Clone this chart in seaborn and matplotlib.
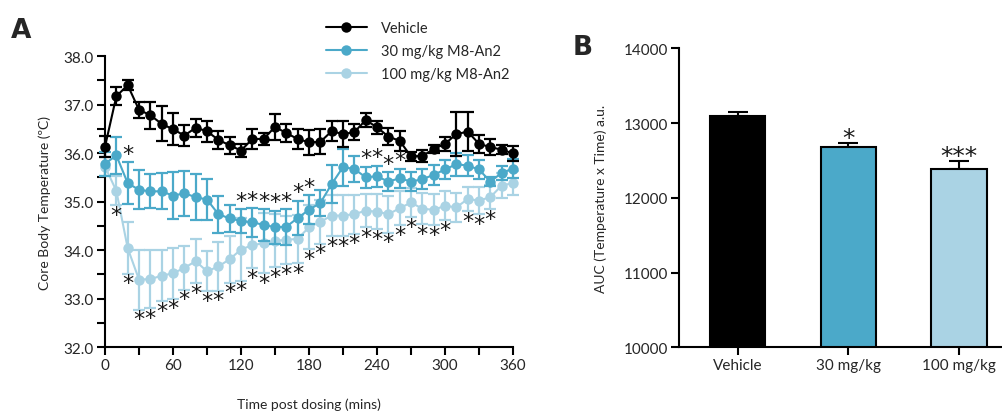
import numpy as np
import pandas as pd
import matplotlib
matplotlib.use('Agg')
import matplotlib.pyplot as plt
import seaborn as sns

# ---- data ----
time = [0, 10, 20, 30, 40, 50, 60, 70, 80, 90, 100, 110, 120, 130, 140, 150, 160, 170, 180,
        190, 200, 210, 220, 230, 240, 250, 260, 270, 280, 290, 300, 310, 320, 330, 340, 350, 360]

vehicle = [36.13, 37.17, 37.40, 36.89, 36.78, 36.60, 36.49, 36.36, 36.52, 36.45, 36.27, 36.16,
           36.05, 36.29, 36.29, 36.54, 36.41, 36.29, 36.22, 36.23, 36.45, 36.39, 36.43, 36.68,
           36.53, 36.34, 36.25, 35.93, 35.94, 36.08, 36.19, 36.39, 36.44, 36.19, 36.12, 36.07, 35.99]
vehicle_sem = [0.22, 0.19, 0.11, 0.16, 0.28, 0.36, 0.33, 0.21, 0.19, 0.22, 0.19, 0.18, 0.13,
               0.21, 0.12, 0.27, 0.19, 0.21, 0.26, 0.26, 0.20, 0.27, 0.16, 0.15, 0.14, 0.18,
               0.20, 0.09, 0.13, 0.09, 0.14, 0.45, 0.40, 0.19, 0.17, 0.10, 0.15]

dose30 = [35.78, 35.95, 35.38, 35.24, 35.21, 35.21, 35.12, 35.17, 35.09, 35.04, 34.74, 34.65,
          34.60, 34.57, 34.52, 34.47, 34.48, 34.66, 34.83, 34.97, 35.36, 35.71, 35.67, 35.50,
          35.52, 35.41, 35.48, 35.41, 35.46, 35.55, 35.66, 35.77, 35.74, 35.66, 35.41, 35.59, 35.68]
dose30_sem = [0.25, 0.38, 0.43, 0.40, 0.35, 0.37, 0.48, 0.46, 0.48, 0.43, 0.38, 0.27, 0.24,
              0.30, 0.33, 0.34, 0.37, 0.36, 0.30, 0.26, 0.40, 0.38, 0.27, 0.22, 0.22, 0.20,
              0.20, 0.20, 0.20, 0.20, 0.20, 0.24, 0.22, 0.20, 0.10, 0.15, 0.20]

dose100 = [35.72, 35.22, 34.04, 33.39, 33.40, 33.47, 33.52, 33.63, 33.77, 33.56, 33.66, 33.81,
           34.01, 34.10, 34.14, 34.19, 34.21, 34.23, 34.47, 34.58, 34.71, 34.71, 34.74, 34.81,
           34.79, 34.74, 34.86, 34.98, 34.85, 34.83, 34.91, 34.88, 35.05, 35.02, 35.09, 35.33, 35.38]
dose100_sem = [0.20, 0.30, 0.53, 0.62, 0.60, 0.52, 0.52, 0.45, 0.45, 0.41, 0.50, 0.48, 0.64,
               0.48, 0.62, 0.55, 0.50, 0.50, 0.45, 0.45, 0.42, 0.42, 0.40, 0.34, 0.36, 0.38,
               0.35, 0.30, 0.32, 0.32, 0.30, 0.30, 0.25, 0.28, 0.25, 0.25, 0.25]

# time points flagged as significant
sig30 = [20, 120, 130, 140, 150, 160, 170, 180, 230, 240, 250, 260]
sig100 = [10, 20, 30, 40, 50, 60, 70, 80, 90, 100, 110, 120, 130, 140, 150, 160, 170, 180, 190,
          200, 210, 220, 230, 240, 250, 260, 270, 280, 290, 300, 320, 330, 340]

groups = ['Vehicle', '30 mg/kg M8-An2', '100 mg/kg M8-An2']
bar_labels = ['Vehicle', '30 mg/kg', '100 mg/kg']
auc = [13090, 12680, 12385]
auc_sem = [55, 58, 110]
auc_stars = ['', '*', '***']

colors = ['#000000', '#4ba9c9', '#aad3e4']

# ---- style ----
sns.set_style('ticks')
plt.rcParams['font.family'] = ['Lato', 'DejaVu Sans']
plt.rcParams['axes.linewidth'] = 1.5
plt.rcParams['xtick.major.width'] = 1.5
plt.rcParams['ytick.major.width'] = 1.5
plt.rcParams['xtick.minor.width'] = 1.5
plt.rcParams['ytick.minor.width'] = 1.5

fig = plt.figure(figsize=(10.02, 4.14), dpi=100)
axA = fig.add_axes([0.1048, 0.1594, 0.4072, 0.7029])
axB = fig.add_axes([0.6776, 0.1587, 0.3224, 0.7222])

# ---- panel A ----
df = pd.DataFrame({
    'time': time * 3,
    'temp': vehicle + dose30 + dose100,
    'sem': vehicle_sem + dose30_sem + dose100_sem,
    'group': [groups[0]] * len(time) + [groups[1]] * len(time) + [groups[2]] * len(time),
})

handles = {}
for g, c, z in zip(groups[::-1], colors[::-1], [2, 3, 4]):
    sub = df[df['group'] == g]
    axA.errorbar(sub['time'], sub['temp'], yerr=sub['sem'], fmt='none', ecolor=c,
                 elinewidth=1.6, capsize=4, capthick=1.6, zorder=z, clip_on=False)
    sns.lineplot(data=sub, x='time', y='temp', color=c, marker='o', markersize=7.5,
                 markeredgewidth=0, linewidth=1.5, ax=axA, zorder=z + 0.5, label=g,
                 clip_on=False, legend=False)
    handles[g] = axA.lines[-1]

def star_rows(times, means, sems, sig, above):
    for t, m, s in zip(times, means, sems):
        if t in sig:
            y = m + s + 0.17 if above else m - s - 0.2
            axA.text(t, y, '*', ha='center', va='center', fontsize=16,
                     family='DejaVu Sans', color='#1a1a1a', zorder=6)

star_rows(time, dose30, dose30_sem, sig30, True)
star_rows(time, dose100, dose100_sem, sig100, False)

axA.set_xlim(0, 360)
axA.set_ylim(32, 38)
axA.set_xticks([0, 60, 120, 180, 240, 300, 360])
axA.set_xticks(range(30, 360, 60), minor=True)
axA.set_yticks([32, 33, 34, 35, 36, 37, 38])
axA.set_yticks([32.5, 33.5, 34.5, 35.5, 36.5, 37.5], minor=True)
axA.set_yticklabels([f'{v:.1f}' for v in [32, 33, 34, 35, 36, 37, 38]])
axA.tick_params(axis='both', which='major', length=6, labelsize=11, color='black', pad=2)
axA.tick_params(axis='both', which='minor', length=6, color='black')
axA.set_xlabel('Time post dosing (mins)', fontsize=10, labelpad=18)
axA.set_ylabel('Core Body Temperature (ºC)', fontsize=10, labelpad=9)
sns.despine(ax=axA)
for sp in axA.spines.values():
    sp.set_color('black')

axA.legend([handles[g] for g in groups], groups, loc='upper left',
           bbox_to_anchor=(0.312, 0.978), bbox_transform=fig.transFigure,
           frameon=False, fontsize=10.5, handlelength=2.8, handletextpad=1.0,
           labelspacing=0.6, numpoints=1)

# ---- panel B ----
dfb = pd.DataFrame({'group': bar_labels, 'auc': auc, 'sem': auc_sem})
sns.barplot(data=dfb, x='group', y='auc', hue='group', palette=colors, width=0.5,
            saturation=1, edgecolor='black', linewidth=1.5, ax=axB, legend=False, zorder=2)
axB.errorbar(range(len(auc)), dfb['auc'], yerr=[[0] * len(auc), dfb['sem']], fmt='none',
             ecolor='black', elinewidth=1.5, capsize=7, capthick=1.5, zorder=1)
for i, (v, s, st) in enumerate(zip(auc, auc_sem, auc_stars)):
    if st:
        axB.text(i, v + s + 60, st, ha='center', va='center', fontsize=18,
                 family='DejaVu Sans', color='#1a1a1a')

axB.set_ylim(10000, 14000)
axB.set_xlim(-0.53, 2.39)
axB.set_yticks([10000, 11000, 12000, 13000, 14000])
axB.tick_params(axis='both', which='major', length=6, labelsize=11, color='black', pad=2)
axB.set_xlabel('')
axB.set_ylabel('AUC (Temperature x Time) a.u.', fontsize=10, labelpad=12)
sns.despine(ax=axB)
for sp in axB.spines.values():
    sp.set_color('black')

fig.text(0.021, 0.925, 'A', fontsize=19, fontweight='heavy', family='DejaVu Sans',
         ha='center', va='center')
fig.text(0.582, 0.885, 'B', fontsize=19, fontweight='heavy', family='DejaVu Sans',
         ha='center', va='center')

fig.savefig('out.png', dpi=100)
